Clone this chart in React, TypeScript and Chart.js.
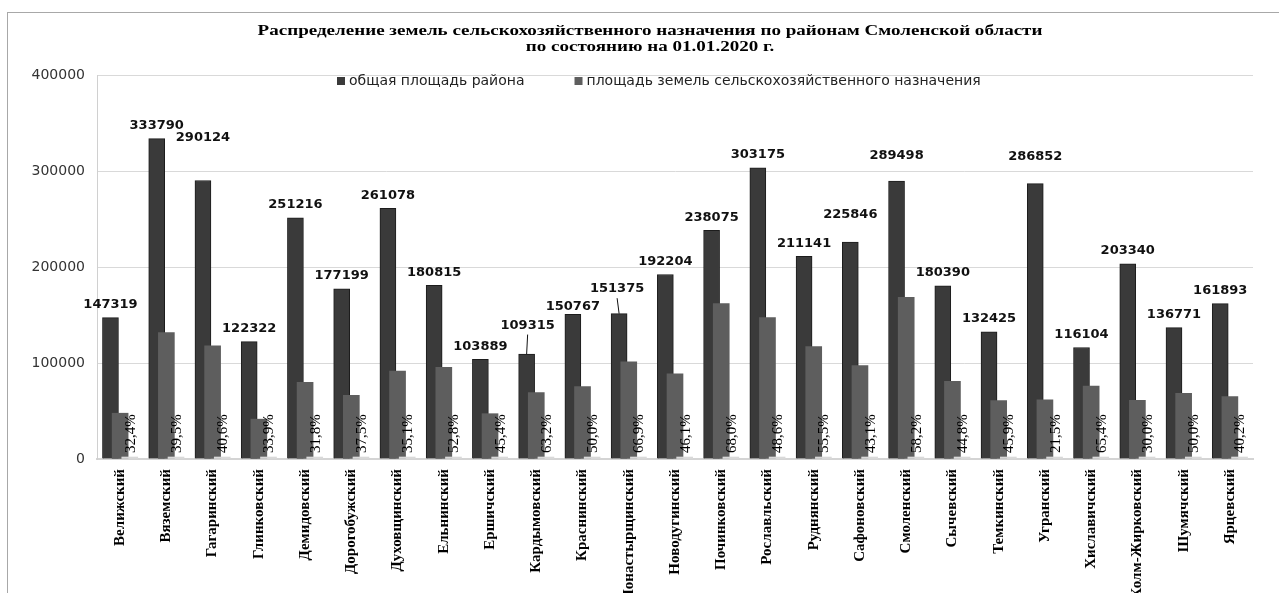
import { useEffect, useRef } from 'react';
import { Chart, registerables } from 'chart.js';

Chart.register(...registerables);

const districts = [
  'Велижский', 'Вяземский', 'Гагаринский', 'Глинковский', 'Демидовский',
  'Дорогобужский', 'Духовщинский', 'Ельнинский', 'Ершичский', 'Кардымовский',
  'Краснинский', 'Монастырщинский', 'Новодугинский', 'Починковский', 'Рославльский',
  'Руднянский', 'Сафоновский', 'Смоленский', 'Сычевский', 'Темкинский',
  'Угранский', 'Хиславичский', 'Холм-Жирковский', 'Шумячский', 'Ярцевский',
];

const totalArea = [
  147319, 333790, 290124, 122322, 251216,
  177199, 261078, 180815, 103889, 109315,
  150767, 151375, 192204, 238075, 303175,
  211141, 225846, 289498, 180390, 132425,
  286852, 116104, 203340, 136771, 161893,
];

const agriArea = [
  47700, 131800, 117800, 41500, 79900,
  66400, 91600, 95500, 47200, 69100,
  75400, 101300, 88600, 161900, 147300,
  117200, 97300, 168500, 80800, 60800,
  61700, 75900, 61000, 68400, 65100,
];

const agriShare = [
  32.4, 39.5, 40.6, 33.9, 31.8,
  37.5, 35.1, 52.8, 45.4, 63.2,
  50.0, 66.9, 46.1, 68.0, 48.6,
  55.5, 43.1, 58.2, 44.8, 45.9,
  21.5, 65.4, 30.0, 50.0, 40.2,
];

const yTickValues = [0, 100000, 200000, 300000, 400000];

const titleLines = [
  'Распределение земель сельскохозяйственного назначения по районам Смоленской области',
  'по состоянию на 01.01.2020 г.',
];

const seriesNames = [
  'общая площадь района',
  'площадь земель сельскохозяйственного назначения',
];

const DARK = '#3a3a3a';
const GRAY = '#5e5e5e';
const LIGHT = '#d9d9d9';

const labelsPlugin = {
  id: 'barLabels',
  afterDraw(chart: any, _args: any, opts: any) {
    const ctx = chart.ctx;
    const area = chart.chartArea;
    ctx.save();

    // title (source appears horizontally stretched)
    ctx.font = 'bold 15px "Liberation Serif"';
    ctx.fillStyle = '#000';
    ctx.textAlign = 'center';
    ctx.textBaseline = 'middle';
    opts.title.forEach((line: string, i: number) => {
      ctx.save();
      ctx.translate(opts.titleX, opts.titleY + i * opts.titleLineHeight);
      ctx.scale(opts.titleStretch, 1);
      ctx.fillText(line, 0, 0);
      ctx.restore();
    });

    // values above total bars
    const metaT = chart.getDatasetMeta(0);
    ctx.font = 'bold 13px "DejaVu Sans"';
    ctx.fillStyle = '#111';
    ctx.textAlign = 'center';
    ctx.textBaseline = 'alphabetic';
    metaT.data.forEach((el: any, i: number) => {
      const v = chart.data.datasets[0].data[i];
      const lead = opts.leaders[i];
      const lift = lead ? lead.lift : (opts.shifts[i] || 0);
      const dx = lead ? lead.dx : 0;
      const base = el.y - opts.gap - lift;
      if (lead) {
        ctx.strokeStyle = '#111';
        ctx.lineWidth = 1;
        ctx.beginPath();
        ctx.moveTo(el.x, el.y);
        ctx.lineTo(el.x + dx, base + 6);
        ctx.stroke();
      }
      ctx.fillText(String(v), el.x + dx, base);
    });

    // rotated shares
    const metaP = chart.getDatasetMeta(2);
    ctx.font = '15px "Liberation Serif"';
    ctx.fillStyle = '#000';
    ctx.textAlign = 'left';
    ctx.textBaseline = 'middle';
    metaP.data.forEach((el: any, i: number) => {
      const v = chart.data.datasets[2].data[i] as number;
      ctx.save();
      ctx.translate(el.x + 1, area.bottom - 6);
      ctx.rotate(-Math.PI / 2);
      ctx.fillText(v.toFixed(1).replace('.', ',') + '%', 0, 0);
      ctx.restore();
    });

    // legend
    ctx.font = '14px "DejaVu Sans"';
    ctx.textBaseline = 'middle';
    ctx.textAlign = 'left';
    let x = opts.legendLeft;
    const y = area.top + opts.legendTop;
    [0, 1].forEach((d) => {
      const ds = chart.data.datasets[d];
      ctx.fillStyle = ds.backgroundColor;
      ctx.fillRect(x, y - 4, 8, 8);
      x += 12;
      ctx.fillStyle = '#222';
      ctx.fillText(ds.label, x, y);
      x += ctx.measureText(ds.label).width + opts.legendGap;
    });

    ctx.restore();
  },
};

export default function App() {
  const ref = useRef<HTMLCanvasElement | null>(null);

  useEffect(() => {
    if (!ref.current) return;
    const hiddenX = (shift: number) => ({
      type: 'linear' as const,
      axis: 'x' as const,
      position: 'bottom' as const,
      display: false,
      offset: false,
      bounds: 'data' as const,
      min: -0.5 - shift,
      max: districts.length - 0.5 - shift,
      ticks: { stepSize: 1, maxTicksLimit: 100 },
      grid: { display: false },
    });
    const chart = new Chart(ref.current, {
      type: 'bar',
      data: {
        labels: districts.map((_, i) => i),
        datasets: [
          {
            label: seriesNames[0],
            data: totalArea,
            backgroundColor: DARK,
            borderColor: '#1c1c1c',
            borderWidth: 1,
            barThickness: 16,
            grouped: false,
            xAxisID: 'xTotal',
            yAxisID: 'y',
            order: 3,
          },
          {
            label: seriesNames[1],
            data: agriArea,
            backgroundColor: GRAY,
            barThickness: 16,
            grouped: false,
            xAxisID: 'xAgri',
            yAxisID: 'y',
            order: 2,
          },
          {
            label: 'доля',
            data: agriShare,
            backgroundColor: LIGHT,
            barThickness: 16,
            grouped: false,
            minBarLength: 2,
            xAxisID: 'xShare',
            yAxisID: 'y',
            order: 1,
          },
        ],
      },
      options: {
        animation: false,
        responsive: true,
        maintainAspectRatio: false,
        layout: { padding: { left: 25, right: 26, top: 75, bottom: 0 } },
        plugins: {
          legend: { display: false },
          tooltip: { enabled: false },
          title: { display: false },
          barLabels: {
            title: titleLines,
            titleX: 650,
            titleY: 31,
            titleLineHeight: 16,
            titleStretch: 1.27,
            gap: 9.5,
            leaders: { 9: { lift: 16, dx: 1 }, 11: { lift: 12, dx: -2 } },
            shifts: { 2: 30, 10: -5, 16: 15, 17: 13, 20: 14 },
            legendLeft: 337,
            legendTop: 6,
            legendGap: 50,
          },
        } as any,
        scales: {
          x: {
            type: 'category',
            labels: districts,
            offset: true,
            grid: { display: false },
            border: { display: true, color: '#d4d4d4', width: 2 },
            ticks: {
              autoSkip: false,
              minRotation: 90,
              maxRotation: 90,
              padding: 2,
              color: '#000',
              font: { family: 'Liberation Serif', size: 15, weight: 'bold' },
            },
            afterFit: (s: any) => { s.height = 134; },
          },
          xTotal: hiddenX(-0.2087),
          xAgri: hiddenX(0),
          xShare: hiddenX(0.2087),
          y: {
            type: 'linear',
            position: 'left',
            min: yTickValues[0],
            max: yTickValues[yTickValues.length - 1],
            afterBuildTicks: (s: any) => { s.ticks = yTickValues.map((value) => ({ value })); },
            ticks: {
              padding: 12,
              color: '#333',
              font: { family: 'DejaVu Sans', size: 14 },
              callback: (v: any) => String(v),
            },
            grid: { color: '#d9d9d9', drawTicks: false },
            border: { display: true, color: '#d0d0d0' },
            afterFit: (s: any) => { s.width = 72; },
          },
        } as any,
      },
      plugins: [labelsPlugin],
    });
    return () => chart.destroy();
  }, []);

  return (
    <div style={{ position: 'fixed', left: 0, top: 0, width: 1279, height: 593, overflow: 'hidden', background: '#fff' }}>
      <div style={{ position: 'absolute', left: 7, top: 12, width: 1400, height: 800, border: '1px solid #a8a8a8' }} />
      <div style={{ position: 'absolute', left: 0, top: 0, width: 1279, height: 593 }}>
        <canvas ref={ref} />
      </div>
    </div>
  );
}
